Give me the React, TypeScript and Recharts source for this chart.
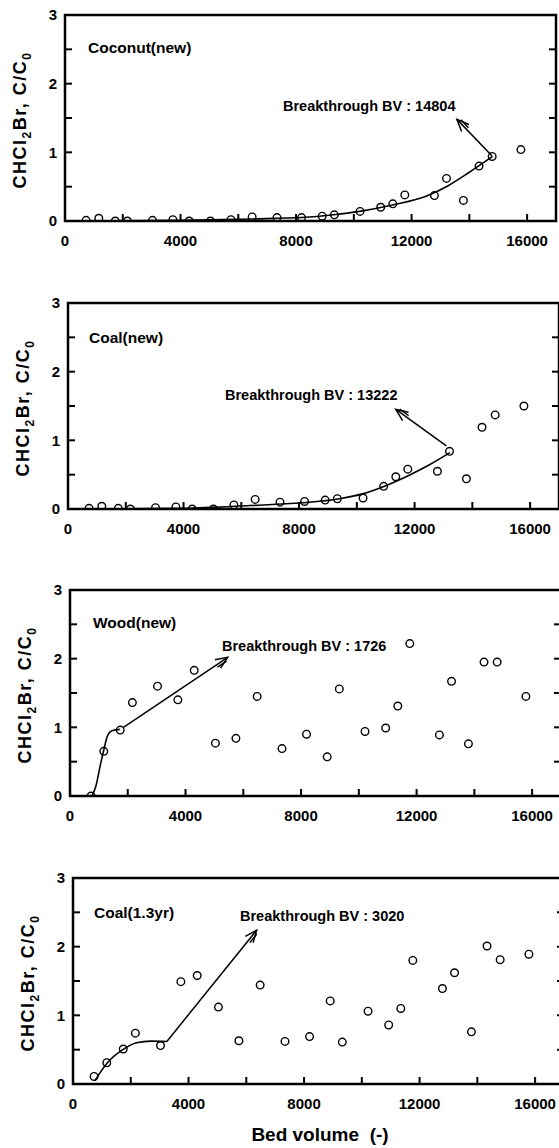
import React from 'react';
import { ComposedChart, XAxis, YAxis, Scatter, Line, ReferenceLine, ReferenceArea } from 'recharts';

// sampling points shared by all four columns
const bedVolume = [730, 1170, 1740, 2160, 3030, 3735, 4300, 5035, 5745, 6480, 7340, 8190, 8905, 9325, 10215, 10930, 11350, 11765, 12790, 13210, 13795, 14335, 14790, 15785];

const coconutNew = [0.01, 0.04, 0.0, 0.0, 0.01, 0.02, 0.0, 0.0, 0.02, 0.06, 0.05, 0.05, 0.07, 0.09, 0.14, 0.2, 0.25, 0.38, 0.37, 0.62, 0.3, 0.8, 0.94, 1.04];
const coalNew = [0.01, 0.04, 0.01, 0.0, 0.02, 0.03, 0.0, 0.0, 0.06, 0.14, 0.1, 0.11, 0.13, 0.15, 0.16, 0.33, 0.47, 0.58, 0.55, 0.84, 0.44, 1.19, 1.37, 1.5];
const woodNew = [0.0, 0.65, 0.96, 1.36, 1.6, 1.4, 1.83, 0.77, 0.84, 1.45, 0.69, 0.9, 0.57, 1.56, 0.94, 0.99, 1.31, 2.22, 0.89, 1.67, 0.76, 1.95, 1.95, 1.45];
const coalOld = [0.11, 0.31, 0.51, 0.74, 0.56, 1.49, 1.58, 1.12, 0.63, 1.44, 0.62, 0.69, 1.21, 0.61, 1.06, 0.86, 1.1, 1.8, 1.39, 1.62, 0.76, 2.01, 1.81, 1.89];

// fitted breakthrough curves
const coconutFitX = [730, 4000, 6500, 8200, 9300, 10200, 11300, 12500, 13250, 14000, 14804];
const coconutFitY = [0, 0.01, 0.03, 0.05, 0.09, 0.14, 0.23, 0.36, 0.51, 0.71, 0.94];
const coalFitX = [730, 4000, 6300, 8100, 9400, 10200, 11000, 11850, 12500, 13222];
const coalFitY = [0, 0.01, 0.05, 0.09, 0.15, 0.22, 0.34, 0.5, 0.64, 0.82];
const woodFitX = [760, 900, 1050, 1170, 1300, 1450, 1726];
const woodFitY = [0, 0.15, 0.45, 0.67, 0.88, 0.95, 0.97];
const coalOldFitX = [760, 1170, 1726, 2200, 2700, 3250];
const coalOldFitY = [0.05, 0.3, 0.5, 0.6, 0.625, 0.62];

// arrows: [tailX, tailY, tipX, tipY]
const coconutArrow = [14780, 0.95, 13570, 1.48];
const coalArrow = [13100, 0.92, 11350, 1.45];
const woodArrow = [1850, 1.0, 5460, 2.02];
const coalOldArrow = [3250, 0.62, 6360, 2.24];

const xTicks = [0, 2000, 4000, 6000, 8000, 10000, 12000, 14000, 16000];
const yTicks = [0, 0.5, 1, 1.5, 2, 2.5, 3];

const FONT = '"Liberation Sans", Arial, Helvetica, sans-serif';
const PLOT_W = 491;
const PLOT_H = 206;
const X_AXIS_H = 34;

const pts = (ys: number[]) => bedVolume.map((x, i) => ({ x, y: ys[i] }));
const curve = (xs: number[], ys: number[]) => xs.map((x, i) => ({ x, y: ys[i] }));

const ArrowShape = (props: any) => {
  const { x1, y1, x2, y2 } = props;
  const ang = Math.atan2(y2 - y1, x2 - x1);
  const len = 13;
  const sp = 0.4;
  const bx = (a: number, l: number) => x2 - l * Math.cos(ang + a);
  const by = (a: number, l: number) => y2 - l * Math.sin(ang + a);
  // little second line along the shaft, like the printed arrow
  const nx = -Math.sin(ang) * 2.5;
  const ny = Math.cos(ang) * 2.5;
  return (
    <g stroke="#000" strokeWidth={1.5} fill="none">
      <line x1={x1} y1={y1} x2={x2} y2={y2} />
      <polyline points={`${bx(sp, len)},${by(sp, len)} ${x2},${y2} ${bx(-sp, len)},${by(-sp, len)}`} />
      <line x1={x2 - 14 * Math.cos(ang) + nx} y1={y2 - 14 * Math.sin(ang) + ny} x2={x2 - 3 * Math.cos(ang) + nx} y2={y2 - 3 * Math.sin(ang) + ny} />
    </g>
  );
};

// plot frame drawn from the area's own corner coordinates
const Frame = (props: any) => {
  const { x, y, width, height } = props;
  return <rect x={x} y={y} width={width} height={height} fill="none" stroke="#000" strokeWidth={2.5} />;
};

const Circle = (p: any) => (
  <circle cx={p.cx} cy={p.cy} r={3.8} fill="none" stroke="#000" strokeWidth={1.4} />
);

const tickStyle = { fill: '#000', stroke: 'none', fontSize: 15, fontWeight: 700, fontFamily: FONT };

const txt = (left: number, cy: number, size: number, s: string) => (
  <div
    style={{
      position: 'absolute',
      left,
      top: cy - size * 0.49,
      fontFamily: FONT,
      fontWeight: 700,
      fontSize: size,
      lineHeight: `${size}px`,
      whiteSpace: 'nowrap',
      color: '#000',
    }}
  >
    {s}
  </div>
);

interface PanelProps {
  top: number;
  left: number;
  values: number[];
  fitX: number[];
  fitY: number[];
  arrow: number[];
}

function Panel({ top, left, values, fitX, fitY, arrow }: PanelProps) {
  return (
    <div style={{ position: 'absolute', left: 0, top: top - 15 }}>
      <ComposedChart
        width={left + PLOT_W + 4}
        height={15 + PLOT_H + X_AXIS_H}
        margin={{ top: 14, right: 3, bottom: 0, left: 0 }}
      >
        <XAxis
          dataKey="x"
          type="number"
          domain={[0, 17000]}
          ticks={xTicks}
          interval={0}
          tickFormatter={(v) => (v % 4000 === 0 ? String(v) : '')}
          tickSize={-7}
          tickMargin={21}
          height={X_AXIS_H}
          stroke="#000"
          strokeWidth={2}
          tick={tickStyle}
          allowDataOverflow
        />
        <XAxis
          xAxisId="top"
          orientation="top"
          type="number"
          domain={[0, 17000]}
          ticks={xTicks}
          interval={0}
          tickFormatter={() => ''}
          tickSize={-7}
          height={1}
          stroke="#000"
          strokeWidth={2}
          allowDataOverflow
        />
        <YAxis
          dataKey="y"
          type="number"
          domain={[0, 3]}
          ticks={yTicks}
          interval={0}
          tickFormatter={(v) => (Number.isInteger(v) ? String(v) : '')}
          tickSize={-7}
          tickMargin={15}
          width={left}
          stroke="#000"
          strokeWidth={2}
          tick={tickStyle}
          allowDataOverflow
        />
        <YAxis
          yAxisId="right"
          orientation="right"
          type="number"
          domain={[0, 3]}
          ticks={yTicks}
          interval={0}
          tickFormatter={() => ''}
          tickSize={-7}
          width={1}
          stroke="#000"
          strokeWidth={2}
          allowDataOverflow
        />
        <ReferenceArea x1={0} x2={17000} y1={0} y2={3} shape={Frame} ifOverflow="visible" />
        <Line
          data={curve(fitX, fitY)}
          dataKey="y"
          type="monotone"
          stroke="#000"
          strokeWidth={1.6}
          dot={false}
          activeDot={false}
          isAnimationActive={false}
        />
        <ReferenceLine
          segment={[
            { x: arrow[0], y: arrow[1] },
            { x: arrow[2], y: arrow[3] },
          ]}
          shape={ArrowShape}
        />
        <Scatter data={pts(values)} dataKey="y" shape={Circle} isAnimationActive={false} />
      </ComposedChart>
    </div>
  );
}

const yLabel = (cx: number, cy: number) => (
  <div
    style={{
      position: 'absolute',
      left: cx,
      top: cy,
      transform: 'translate(-50%, -50%) rotate(-90deg)',
      fontFamily: FONT,
      fontWeight: 700,
      fontSize: 18,
      lineHeight: '20px',
      letterSpacing: 1.5,
      whiteSpace: 'nowrap',
    }}
  >
    CHCl<span style={{ fontSize: 12, position: 'relative', top: 5 }}>2</span>Br, C/C
    <span style={{ fontSize: 12, position: 'relative', top: 5 }}>0</span>
  </div>
);

const panelTops = [15, 303, 590, 878];
const panelLefts = [65, 68, 70, 73];

export default function App() {
  return (
    <div
      style={{
        position: 'absolute',
        left: 0,
        top: 0,
        width: 559,
        height: 1148,
        overflow: 'hidden',
        background: '#fff',
      }}
    >
      <Panel top={panelTops[0]} left={panelLefts[0]} values={coconutNew} fitX={coconutFitX} fitY={coconutFitY} arrow={coconutArrow} />
      <Panel top={panelTops[1]} left={panelLefts[1]} values={coalNew} fitX={coalFitX} fitY={coalFitY} arrow={coalArrow} />
      <Panel top={panelTops[2]} left={panelLefts[2]} values={woodNew} fitX={woodFitX} fitY={woodFitY} arrow={woodArrow} />
      <Panel top={panelTops[3]} left={panelLefts[3]} values={coalOld} fitX={coalOldFitX} fitY={coalOldFitY} arrow={coalOldArrow} />

      {panelTops.map((t, i) => (
        <React.Fragment key={t}>{yLabel(panelLefts[i] - 44, t + PLOT_H / 2 + 2)}</React.Fragment>
      ))}

      {txt(88, 48, 15.5, 'Coconut(new)')}
      {txt(283, 106, 14.5, 'Breakthrough BV : 14804')}
      {txt(89, 338, 15.5, 'Coal(new)')}
      {txt(225, 395, 14.5, 'Breakthrough BV : 13222')}
      {txt(93, 623, 15.5, 'Wood(new)')}
      {txt(222, 646, 14.5, 'Breakthrough BV : 1726')}
      {txt(94, 913, 15.5, 'Coal(1.3yr)')}
      {txt(240, 916, 14.5, 'Breakthrough BV : 3020')}

      <div
        style={{
          position: 'absolute',
          left: 320,
          top: 1135,
          transform: 'translate(-50%, -50%)',
          fontFamily: FONT,
          fontWeight: 700,
          fontSize: 19,
          whiteSpace: 'pre',
        }}
      >
        {'Bed volume  (-)'}
      </div>
    </div>
  );
}
